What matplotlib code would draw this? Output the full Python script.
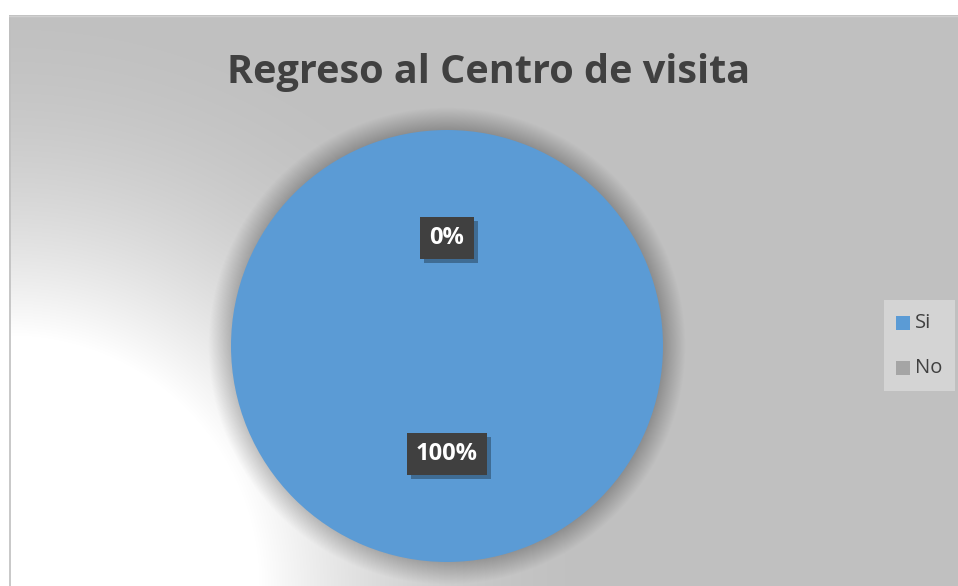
import numpy as np
import matplotlib
matplotlib.use('Agg')
import matplotlib.pyplot as plt
from matplotlib.patches import Circle, Rectangle

# data
categories = ['Si', 'No']
values = [100, 0]
colors = ['#5b9bd5', '#a5a5a5']
title = 'Regreso al Centro de visita'

W, H = 958, 586
fig = plt.figure(figsize=(W / 100.0, H / 100.0), dpi=100)
fig.patch.set_facecolor('white')

# chart area frame (white strip on top, thin border on left)
x0, y0 = 9, 0
x1, y1 = W, H - 15
bg = fig.add_axes([x0 / W, y0 / H, (x1 - x0) / W, (y1 - y0) / H])
bg.set_axis_off()

# radial gradient from bottom-left corner: white -> gray
gx = np.arange(x1 - x0)
gy = np.arange(y1 - y0)
XX, YY = np.meshgrid(gx, gy)
r = np.sqrt(XX ** 2 + YY ** 2)
t = np.clip((r - 250.0) / 350.0, 0, 1)
v = (192 + 63 * (1 - t) ** 2) / 255.0
img = np.dstack([v, v, v])
bg.imshow(img, origin='lower', extent=[0, x1 - x0, 0, y1 - y0], aspect='auto')
bg.set_xlim(0, x1 - x0)
bg.set_ylim(0, y1 - y0)
bg.plot([0.5, 0.5], [0, y1 - y0], color='#bfbfbf', lw=1.2)
bg.plot([0, x1 - x0], [y1 - y0 - 0.5, y1 - y0 - 0.5], color='#d0d0d0', lw=1)

# title
fig.text(489 / W, 1 - 73 / H, title, ha='center', va='center',
         fontsize=28.5, fontweight='bold', color='#404040', family='Open Sans')

# pie
cx, cy, R = 447, 346, 216
S = 1.3  # axes extends beyond the pie so the shadow is not clipped
ax = fig.add_axes([(cx - S * R) / W, 1 - (cy + S * R) / H, 2 * S * R / W, 2 * S * R / H])
ax.set_axis_off()

# soft shadow around the pie
n = 28
for k in range(n):
    ax.add_patch(Circle((0, 0), 0.99 + k * 0.0042, color='black',
                        alpha=0.009, lw=0, zorder=0))

wedges, texts, autotexts = ax.pie(values, colors=colors, startangle=90,
                                  counterclock=False, radius=1.0,
                                  autopct='%1.0f%%', pctdistance=0.5,
                                  wedgeprops=dict(linewidth=0),
                                  textprops=dict(color='white', fontsize=17,
                                                 fontweight='bold',
                                                 family='Open Sans'))
ax.set_xlim(-S, S)
ax.set_ylim(-S, S)

for at in autotexts:
    at.set_zorder(5)
    at.set_bbox(dict(boxstyle='square,pad=0.4', facecolor='#404040',
                     edgecolor='none'))

# drop shadow under the label boxes (between pie and labels)
fig.canvas.draw()
inv = ax.transData.inverted()
for at in autotexts:
    bb = at.get_bbox_patch().get_window_extent()
    (ax0, ay0), (ax1, ay1) = inv.transform([(bb.x0 + 4, bb.y0 - 4), (bb.x1 + 4, bb.y1 - 4)])
    ax.add_patch(Rectangle((ax0, ay0), ax1 - ax0, ay1 - ay0,
                           facecolor='black', edgecolor='none', alpha=0.3,
                           zorder=4))

# legend
lg = fig.add_axes([0, 0, 1, 1], facecolor='none')
lg.set_axis_off()
lg.set_xlim(0, W)
lg.set_ylim(H, 0)
lg.add_patch(Rectangle((884, 300), 71, 91, facecolor='#d4d4d4', edgecolor='none'))
for i in range(len(categories)):
    yy = 323 + i * 45
    lg.add_patch(Rectangle((896, yy - 7), 14, 14, facecolor=colors[i], edgecolor='none'))
    lg.text(915, yy, categories[i], ha='left', va='center', fontsize=14.5,
            color='#404040', family='Open Sans')

plt.savefig('out.png', dpi=100)
